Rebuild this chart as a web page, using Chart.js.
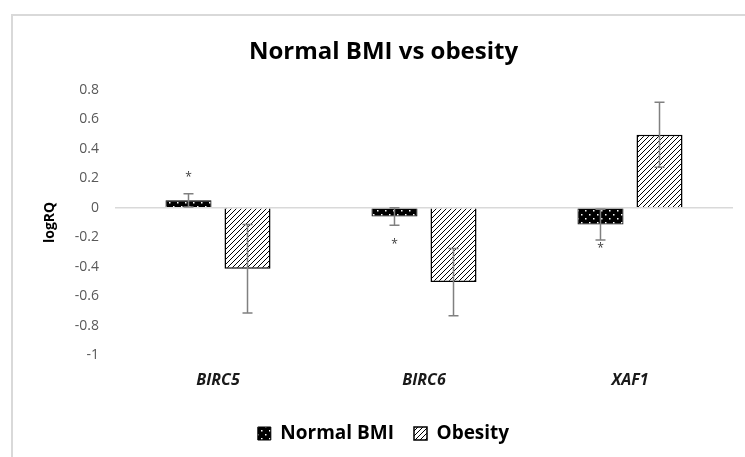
<!DOCTYPE html>
<html>
<head>
<meta charset="utf-8">
<script src="https://cdn.jsdelivr.net/npm/chart.js@4"></script>
<style>
  html, body { margin: 0; padding: 0; background: #fff; }
  .frame { position: absolute; left: 11px; top: 14px; right: 0; bottom: 0; border-top: 2px solid #d9d9d9; border-left: 2px solid #d9d9d9; }
  .wrap { position: absolute; left: 0; top: 0; width: 745px; height: 457px; }
</style>
</head>
<body>
<div class="frame"></div>
<div class="wrap"><canvas id="geneChart"></canvas></div>
<script>
const categories = ['BIRC5', 'BIRC6', 'XAF1'];
const normalValues = [0.05, -0.06, -0.115];
const normalErrors = [0.045, 0.06, 0.105];
const obesityValues = [-0.415, -0.505, 0.495];
const obesityErrors = [0.30, 0.228, 0.22];
// asterisk marks over the Normal BMI bars
const normalStars = [0.22, -0.235, -0.265];
const yTicks = [0.8, 0.6, 0.4, 0.2, 0, -0.2, -0.4, -0.6, -0.8, -1];

const FONT = "'Open Sans', sans-serif";

function makePattern(draw, w, h) {
  const c = document.createElement('canvas');
  c.width = w;
  c.height = h;
  draw(c.getContext('2d'));
  return c.getContext('2d').createPattern(c, 'repeat');
}

// black with small white dots
const dotted = makePattern(ctx => {
  ctx.fillStyle = '#000';
  ctx.fillRect(0, 0, 8, 8);
  ctx.fillStyle = '#fff';
  ctx.fillRect(1, 2, 1.5, 1.5);
  ctx.fillRect(5, 6, 1.5, 1.5);
}, 8, 8);

// white with diagonal black lines
const hatched = makePattern(ctx => {
  ctx.fillStyle = '#fff';
  ctx.fillRect(0, 0, 5, 5);
  ctx.strokeStyle = '#000';
  ctx.lineWidth = 1;
  ctx.beginPath();
  ctx.moveTo(-1, 6); ctx.lineTo(6, -1);
  ctx.moveTo(-1, 1); ctx.lineTo(1, -1);
  ctx.moveTo(4, 6); ctx.lineTo(6, 4);
  ctx.stroke();
}, 5, 5);

const errorBars = {
  id: 'errorBars',
  afterDatasetsDraw(chart) {
    const ctx = chart.ctx;
    const y = chart.scales.y;
    const errs = [normalErrors, obesityErrors];
    ctx.save();
    ctx.strokeStyle = '#808080';
    ctx.lineWidth = 1.5;
    chart.data.datasets.forEach((ds, i) => {
      chart.getDatasetMeta(i).data.forEach((bar, j) => {
        const v = ds.data[j];
        const top = y.getPixelForValue(v + errs[i][j]);
        const bot = y.getPixelForValue(v - errs[i][j]);
        ctx.beginPath();
        ctx.moveTo(bar.x, top); ctx.lineTo(bar.x, bot);
        ctx.moveTo(bar.x - 5, top); ctx.lineTo(bar.x + 5, top);
        ctx.moveTo(bar.x - 5, bot); ctx.lineTo(bar.x + 5, bot);
        ctx.stroke();
      });
    });
    ctx.fillStyle = '#404040';
    ctx.font = '12px ' + FONT;
    ctx.textAlign = 'center';
    ctx.textBaseline = 'middle';
    chart.getDatasetMeta(0).data.forEach((bar, j) => {
      ctx.fillText('*', bar.x, y.getPixelForValue(normalStars[j]) + 2);
    });
    ctx.restore();
  }
};

new Chart(document.getElementById('geneChart'), {
  type: 'bar',
  data: {
    labels: categories,
    datasets: [
      {
        label: 'Normal BMI',
        data: normalValues,
        backgroundColor: dotted,
        borderColor: '#000',
        borderWidth: 1
      },
      {
        label: 'Obesity',
        data: obesityValues,
        backgroundColor: hatched,
        borderColor: '#000',
        borderWidth: 1.5
      }
    ]
  },
  options: {
    responsive: true,
    maintainAspectRatio: false,
    animation: false,
    categoryPercentage: 0.573,
    barPercentage: 0.78,
    layout: { padding: { left: 34, right: 12, top: 0, bottom: 4 } },
    plugins: {
      title: {
        display: true,
        text: 'Normal BMI vs obesity',
        color: '#000',
        font: { family: FONT, size: 24, weight: 'bold' },
        padding: { top: 38, bottom: 23 }
      },
      legend: {
        position: 'bottom',
        labels: {
          color: '#000',
          font: { family: FONT, size: 19, weight: 'bold' },
          boxWidth: 13,
          boxHeight: 13,
          padding: 20
        }
      },
      tooltip: { enabled: false }
    },
    scales: {
      x: {
        grid: { display: false, drawTicks: false },
        border: { display: false },
        ticks: {
          color: '#1a1a1a',
          padding: 16,
          font: { family: FONT, size: 16, weight: 'bold', style: 'italic' }
        },
        afterFit(axis) { axis.height = 49; }
      },
      y: {
        min: -1,
        max: 0.8,
        afterBuildTicks(axis) { axis.ticks = yTicks.map(v => ({ value: v })); },
        grid: {
          drawTicks: false,
          color: c => c.tick && c.tick.value === 0 ? '#d9d9d9' : 'rgba(0,0,0,0)',
          lineWidth: 1.5
        },
        border: { display: false },
        ticks: {
          color: '#595959',
          padding: 16,
          font: { family: FONT, size: 14 },
          callback: v => String(+v.toFixed(1))
        },
        title: {
          display: true,
          text: 'logRQ',
          color: '#000',
          font: { family: FONT, size: 14, weight: 'bold' },
          padding: { top: 8, bottom: 0 }
        },
        afterFit(axis) { axis.width = 81; }
      }
    }
  },
  plugins: [errorBars]
});
</script>
</body>
</html>
